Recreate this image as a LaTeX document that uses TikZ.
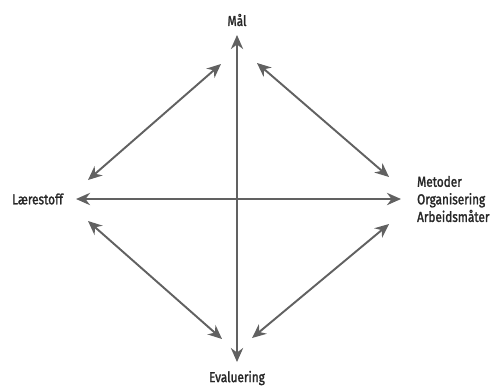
\documentclass[tikz,border=0pt]{standalone}
\usepackage{fontspec}
\setmainfont[FakeStretch=0.82,FakeBold=1.6]{Fira Sans}
\usepackage{tikz}
\usetikzlibrary{arrows.meta}

\begin{document}
\begin{tikzpicture}[x=0.02cm,y=-0.02cm,word/.style={font=\fontsize{8.2}{10}\selectfont,text=black!85,inner sep=1pt},link/.style={draw=black!62,line width=1.1pt,{Stealth[length=8pt,width=7pt]}-{Stealth[length=8pt,width=7pt]}}]
\useasboundingbox (0,0) rectangle (492,387);
\def\cx{237};
\def\cy{199};

\node[word] (M) at (\cx,20) {Mål};
\node[word] (E) at (\cx,378) {Evaluering};
\node[word,anchor=west] (L) at (10,\cy) {Lærestoff};
\node[word,anchor=west,align=left] (O) at (415,\cy) {Metoder\\Organisering\\Arbeidsmåter};

\coordinate (Mt) at (\cx,35);
\coordinate (Eb) at (\cx,362);
\coordinate (Ll) at (76,\cy);
\coordinate (Or) at (401,\cy);
\draw[link] (Mt) -- (Eb);
\draw[link] (Ll) -- (Or);

\coordinate (a1) at (88,180);
\coordinate (a2) at (221,64);
\draw[link] (a1) -- (a2);
\coordinate (b1) at (257,63);
\coordinate (b2) at (389,177);
\draw[link] (b1) -- (b2);
\coordinate (c1) at (88,221);
\coordinate (c2) at (222,339);
\draw[link] (c1) -- (c2);
\coordinate (d1) at (252,338);
\coordinate (d2) at (389,224);
\draw[link] (d1) -- (d2);
\end{tikzpicture}
\end{document}
